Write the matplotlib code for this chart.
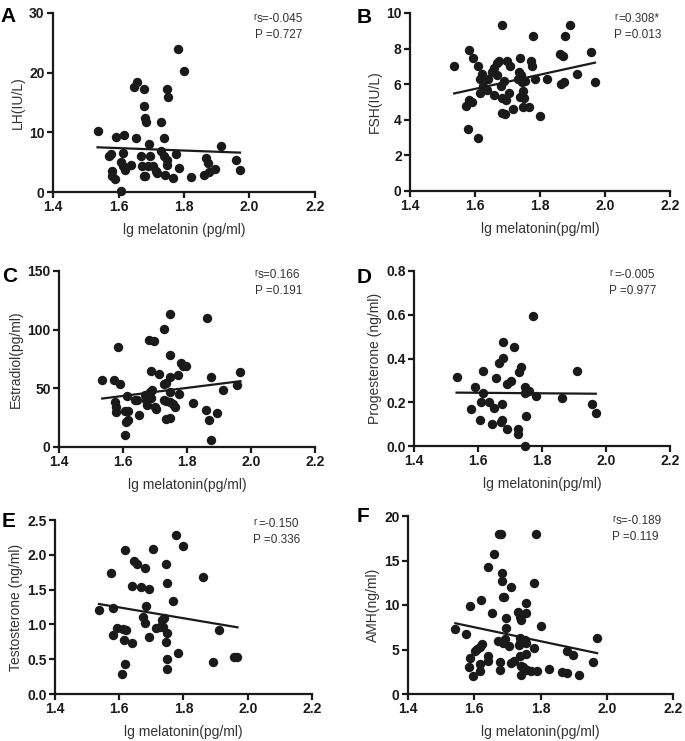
import matplotlib
matplotlib.use("Agg")
import matplotlib.pyplot as plt
import numpy as np

plt.rcParams['font.family'] = ['Liberation Sans', 'DejaVu Sans']

# ---------------- data ----------------
lh_x = [1.536, 1.576, 1.571, 1.581, 1.581, 1.589, 1.593, 1.616, 1.615, 1.608, 1.613, 1.619, 1.637, 1.608,
        1.652, 1.646, 1.658, 1.678, 1.677, 1.680, 1.683, 1.668, 1.673, 1.677, 1.680, 1.692, 1.697, 1.690,
        1.705, 1.713, 1.719, 1.731, 1.739, 1.731, 1.738, 1.743, 1.749, 1.752, 1.749, 1.747, 1.765, 1.775,
        1.784, 1.782, 1.800, 1.821, 1.862, 1.866, 1.872, 1.877, 1.895, 1.913, 1.958, 1.971]
lh_y = [10.3, 6.4, 6.0, 3.5, 2.6, 2.1, 9.3, 9.6, 6.6, 5.0, 4.3, 3.7, 4.5, 0.1,
        9.0, 17.6, 18.4, 17.2, 14.4, 12.4, 11.8, 6.0, 4.4, 2.7, 2.6, 8.0, 6.1, 4.4,
        4.3, 3.5, 3.2, 11.7, 9.0, 6.8, 6.0, 2.9, 17.2, 15.9, 4.5, 5.4, 2.3, 6.3,
        4.0, 23.9, 20.2, 2.5, 2.8, 5.7, 4.9, 3.4, 3.9, 7.7, 5.4, 3.7]
lh_fit = [7.49, 6.60]

fsh_x = [1.536, 1.582, 1.595, 1.578, 1.609, 1.571, 1.582, 1.592, 1.610, 1.616, 1.621, 1.614, 1.624, 1.636,
         1.641, 1.652, 1.659, 1.659, 1.667, 1.669, 1.675, 1.684, 1.680, 1.682, 1.682, 1.692, 1.690, 1.694,
         1.699, 1.705, 1.708, 1.716, 1.738, 1.735, 1.733, 1.738, 1.743, 1.746, 1.749, 1.751, 1.754, 1.749,
         1.766, 1.771, 1.774, 1.779, 1.784, 1.800, 1.820, 1.862, 1.870, 1.864, 1.874, 1.877, 1.892, 1.913,
         1.956, 1.969]
fsh_y = [7.0, 7.9, 7.5, 3.5, 3.0, 4.8, 5.1, 5.0, 7.0, 6.3, 6.6, 5.5, 5.9, 5.7,
         6.3, 6.7, 6.9, 5.4, 6.5, 7.2, 7.3, 9.3, 5.9, 5.2, 4.4, 4.3, 6.2, 5.1,
         7.3, 5.5, 7.0, 4.6, 7.5, 6.7, 6.3, 5.3, 6.5, 6.1, 5.6, 5.2, 6.2, 4.7,
         4.7, 7.3, 7.0, 8.7, 6.3, 4.2, 6.3, 7.7, 7.6, 6.0, 6.1, 8.7, 9.3, 6.6,
         7.8, 6.1]
fsh_fit = [5.48, 7.21]

e2_x = [1.535, 1.571, 1.590, 1.585, 1.574, 1.577, 1.579, 1.607, 1.616, 1.613, 1.608, 1.616, 1.607, 1.636,
        1.644, 1.650, 1.670, 1.673, 1.675, 1.680, 1.696, 1.689, 1.683, 1.692, 1.689, 1.699, 1.704, 1.713,
        1.727, 1.727, 1.735, 1.727, 1.735, 1.733, 1.748, 1.746, 1.748, 1.748, 1.748, 1.746, 1.756, 1.761,
        1.772, 1.774, 1.782, 1.789, 1.798, 1.819, 1.859, 1.863, 1.874, 1.869, 1.874, 1.893, 1.912, 1.955,
        1.967]
e2_y = [57.5, 57.5, 54.0, 85.4, 38.4, 34.2, 29.9, 30.7, 30.5, 43.3, 21.3, 22.8, 10.5, 39.9,
        40.4, 27.6, 44.1, 40.4, 35.6, 91.1, 90.2, 64.6, 47.0, 49.0, 42.1, 34.2, 32.7, 62.6,
        100.2, 53.5, 54.6, 40.0, 39.0, 23.6, 24.8, 113.3, 78.3, 59.8, 47.0, 38.4, 37.0, 34.2,
        61.0, 45.5, 71.7, 68.9, 69.2, 37.6, 31.3, 110.2, 59.8, 23.3, 6.3, 29.3, 48.4, 53.2,
        64.0]
e2_fit = [41.3, 56.1]

p4_x = [1.533, 1.578, 1.591, 1.615, 1.615, 1.610, 1.606, 1.634, 1.650, 1.645, 1.656, 1.667, 1.679, 1.677,
        1.676, 1.674, 1.672, 1.690, 1.690, 1.702, 1.713, 1.729, 1.734, 1.726, 1.726, 1.747, 1.747, 1.749,
        1.747, 1.760, 1.773, 1.781, 1.861, 1.910, 1.955, 1.968]
p4_y = [0.317, 0.169, 0.271, 0.343, 0.241, 0.200, 0.117, 0.203, 0.172, 0.099, 0.313, 0.381, 0.401, 0.477,
        0.191, 0.119, 0.111, 0.076, 0.282, 0.297, 0.454, 0.340, 0.363, 0.078, 0.055, 0.271, 0.241, 0.137,
        0.000, 0.253, 0.595, 0.229, 0.218, 0.343, 0.192, 0.149]
p4_fit = [0.244, 0.239]

t_x = [1.537, 1.574, 1.582, 1.582, 1.594, 1.613, 1.620, 1.618, 1.615, 1.618, 1.610, 1.639, 1.639, 1.647,
       1.655, 1.668, 1.681, 1.673, 1.681, 1.684, 1.693, 1.693, 1.704, 1.714, 1.727, 1.732, 1.739, 1.735,
       1.747, 1.749, 1.750, 1.747, 1.750, 1.750, 1.766, 1.776, 1.784, 1.800, 1.862, 1.893, 1.912, 1.956,
       1.968]
t_y = [1.207, 1.734, 1.231, 0.848, 0.953, 0.929, 0.920, 2.069, 0.776, 0.436, 0.287, 0.738, 1.552, 1.911,
       1.868, 1.542, 1.806, 1.111, 1.025, 1.264, 1.504, 0.824, 2.079, 0.943, 0.958, 1.063, 1.097, 0.958,
       1.868, 1.590, 0.881, 0.742, 0.498, 0.359, 1.336, 2.285, 0.584, 2.131, 1.686, 0.455, 0.915, 0.536,
       0.527]
t_fit = [1.293, 0.958]

amh_x = [1.543, 1.576, 1.588, 1.588, 1.583, 1.596, 1.601, 1.609, 1.616, 1.624, 1.621, 1.616, 1.618, 1.642,
         1.641, 1.642, 1.653, 1.659, 1.672, 1.677, 1.677, 1.675, 1.680, 1.684, 1.685, 1.687, 1.690, 1.687,
         1.694, 1.697, 1.697, 1.704, 1.710, 1.712, 1.719, 1.732, 1.737, 1.742, 1.737, 1.737, 1.734, 1.737,
         1.742, 1.740, 1.752, 1.756, 1.757, 1.756, 1.757, 1.747, 1.758, 1.771, 1.779, 1.781, 1.786, 1.790,
         1.803, 1.825, 1.866, 1.879, 1.881, 1.898, 1.915, 1.958, 1.971]
amh_y = [7.35, 6.75, 9.93, 4.03, 2.99, 2.05, 4.78, 5.04, 5.26, 5.63, 10.56, 2.61, 3.40, 4.22,
         3.66, 14.22, 9.14, 15.78, 5.90, 3.58, 2.72, 18.02, 18.02, 13.54, 12.72, 10.93, 10.86, 5.71,
         6.16, 8.51, 7.39, 5.41, 12.05, 3.47, 3.73, 9.25, 8.69, 8.32, 6.27, 5.71, 5.52, 4.22,
         3.17, 2.16, 6.08, 9.10, 10.19, 5.71, 4.48, 2.99, 2.72, 2.54, 12.50, 5.15, 18.02, 2.54,
         7.65, 2.84, 2.43, 2.35, 4.85, 4.33, 2.16, 3.58, 6.27]
amh_fit = [7.95, 4.59]

x_ticks = [1.4, 1.6, 1.8, 2.0, 2.2]
x_tick_labels = ["1.4", "1.6", "1.8", "2.0", "2.2"]

# ---------------- layout (pixels) ----------------
W, H = 685, 741
fig = plt.figure(figsize=(W / 100, H / 100), dpi=100)

def frac_rect(l, r, t, b):
    return [l / W, 1 - b / H, (r - l) / W, (b - t) / H]

panels = [
    dict(letter="A", rect=(53, 315, 13, 192), x=lh_x, y=lh_y, fit=lh_fit, ylim=(0, 30),
         yticks=[0, 10, 20, 30], ytl=["0", "10", "20", "30"], ylabel="LH(IU/L)",
         xlabel="lg melatonin (pg/ml)", rsub="s=-0.045", pval="P =0.727",
         letpos=(0, 22), rpos=(253, 20), spos=(257, 22), ppos=(255, 38)),
    dict(letter="B", rect=(410, 670, 13, 191), x=fsh_x, y=fsh_y, fit=fsh_fit, ylim=(0, 10),
         yticks=[0, 2, 4, 6, 8, 10], ytl=["0", "2", "4", "6", "8", "10"], ylabel="FSH(IU/L)",
         xlabel="lg melatonin(pg/ml)", rsub="=0.308*", pval="P =0.013",
         letpos=(357, 23), rpos=(614, 20), spos=(618, 22), ppos=(614, 38)),
    dict(letter="C", rect=(59, 315, 271, 447), x=e2_x, y=e2_y, fit=e2_fit, ylim=(0, 150),
         yticks=[0, 50, 100, 150], ytl=["0", "50", "100", "150"], ylabel="Estradiol(pg/ml)",
         xlabel="lg melatonin(pg/ml)", rsub="s=0.166", pval="P =0.191",
         letpos=(2, 282), rpos=(254, 276), spos=(258, 278), ppos=(255, 294)),
    dict(letter="D", rect=(414, 670, 271, 446), x=p4_x, y=p4_y, fit=p4_fit, ylim=(0, 0.8),
         yticks=[0, 0.2, 0.4, 0.6, 0.8], ytl=["0.0", "0.2", "0.4", "0.6", "0.8"],
         ylabel="Progesterone (ng/ml)",
         xlabel="lg melatonin(pg/ml)", rsub="=-0.005", pval="P =0.977",
         letpos=(357, 283), rpos=(609, 276), spos=(614, 278), ppos=(609, 294)),
    dict(letter="E", rect=(55, 312, 520, 694), x=t_x, y=t_y, fit=t_fit, ylim=(0, 2.5),
         yticks=[0, 0.5, 1.0, 1.5, 2.0, 2.5], ytl=["0.0", "0.5", "1.0", "1.5", "2.0", "2.5"],
         ylabel="Testosterone (ng/ml)",
         xlabel="lg melatonin(pg/ml)", rsub="=-0.150", pval="P =0.336",
         letpos=(2, 527), rpos=(253, 525), spos=(258, 527), ppos=(253, 543)),
    dict(letter="F", rect=(408, 673, 516, 694), x=amh_x, y=amh_y, fit=amh_fit, ylim=(0, 20),
         yticks=[0, 5, 10, 15, 20], ytl=["0", "5", "10", "15", "20"], ylabel="AMH(ng/ml)",
         xlabel="lg melatonin(pg/ml)", rsub="s=-0.189", pval="P =0.119",
         letpos=(357, 522), rpos=(612, 522), spos=(616, 524), ppos=(612, 540)),
]

dark = "#1a1a1a"
for p in panels:
    ax = fig.add_axes(frac_rect(*p["rect"]))
    ax.scatter(p["x"], p["y"], s=46, color=dark, linewidths=0, zorder=3, clip_on=False)
    fx = [min(p["x"]), max(p["x"])]
    ax.plot(fx, p["fit"], color=dark, lw=1.6, zorder=4)
    ax.set_xlim(1.4, 2.2)
    ax.set_ylim(*p["ylim"])
    ax.set_xticks(x_ticks)
    ax.set_xticklabels(x_tick_labels)
    ax.set_yticks(p["yticks"])
    ax.set_yticklabels(p["ytl"])
    for s in ["top", "right"]:
        ax.spines[s].set_visible(False)
    for s in ["left", "bottom"]:
        ax.spines[s].set_linewidth(1.6)
        ax.spines[s].set_color(dark)
    ax.tick_params(direction="out", length=4, width=1.6, colors=dark, labelsize=10, pad=2)
    for lab in ax.get_xticklabels() + ax.get_yticklabels():
        lab.set_fontweight("bold")
    ax.set_xlabel(p["xlabel"], fontsize=10, color="#333333", labelpad=6)
    ax.set_ylabel(p["ylabel"], fontsize=10, color="#333333", labelpad=3)

    lx, ly = p["letpos"]
    fig.text(lx / W, 1 - ly / H, p["letter"], fontsize=15, fontweight="bold", color="black",
             ha="left", va="baseline")
    rx, ry = p["rpos"]
    fig.text(rx / W, 1 - ry / H, "r", fontsize=7, color="#333333", ha="left", va="baseline")
    sx, sy = p["spos"]
    fig.text(sx / W, 1 - sy / H, p["rsub"], fontsize=8.5, color="#333333", ha="left", va="baseline")
    px, py = p["ppos"]
    fig.text(px / W, 1 - py / H, p["pval"], fontsize=8.5, color="#333333", ha="left", va="baseline")

fig.savefig("out.png", dpi=100, facecolor="white")
